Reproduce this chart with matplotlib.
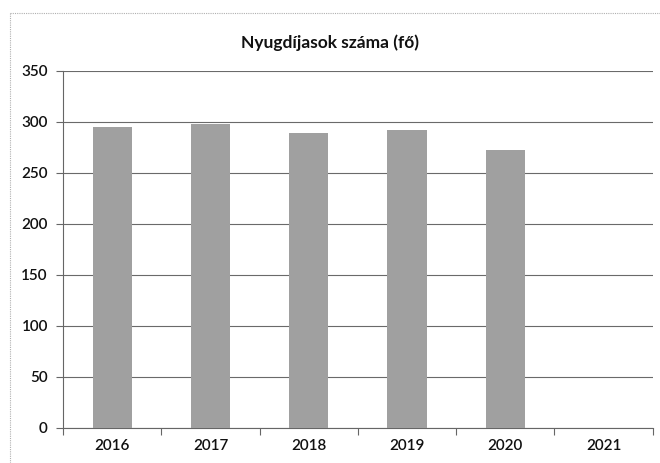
import matplotlib
matplotlib.use("Agg")
import matplotlib.pyplot as plt
from matplotlib.lines import Line2D

years = ["2016", "2017", "2018", "2019", "2020", "2021"]
retirees = [295, 298, 289, 292, 273, 0]
y_ticks = [0, 50, 100, 150, 200, 250, 300, 350]
title = "Nyugdíjasok száma (fő)"

plt.rcParams["font.family"] = ["Lato", "DejaVu Sans"]

fig = plt.figure(figsize=(6.6, 4.63), dpi=100)
fig.patch.set_facecolor("white")
ax = fig.add_axes([0.0955, 0.0756, 0.989 - 0.0955, 0.8467 - 0.0756])

x = list(range(len(years)))
ax.bar(x, retirees, width=0.4, color="#a0a0a0", edgecolor="none", zorder=3)

ax.set_xlim(-0.5, len(years) - 0.5)
ax.set_ylim(0, 350)
ax.set_yticks(y_ticks)
ax.set_yticklabels([str(v) for v in y_ticks], fontsize=11, color="#111111",
                   fontweight="semibold")
ax.set_xticks(x)
ax.set_xticklabels(years, fontsize=11, color="#111111", fontweight="semibold")
ax.set_xticks([i - 0.5 for i in range(len(years) + 1)], minor=True)

ax.tick_params(axis="x", which="major", length=0, pad=8)
ax.tick_params(axis="x", which="minor", length=5, width=0.8, color="#666666", direction="out")
ax.tick_params(axis="y", which="major", length=5, width=0.8, color="#666666", direction="out", pad=6)

ax.grid(axis="y", color="#6a6a6a", linewidth=0.8, zorder=0)
for side in ("top", "right"):
    ax.spines[side].set_visible(False)
for side in ("left", "bottom"):
    ax.spines[side].set_color("#666666")
    ax.spines[side].set_linewidth(0.8)

fig.text(0.5, 1 - 43 / 463, title, ha="center", va="center",
         fontsize=12.5, fontweight="bold", color="#111111")

# outer chart frame (dotted)
frame_kw = dict(color="#b0b0b0", linewidth=0.8, linestyle=(0, (1, 1)))
fig.add_artist(Line2D([10 / 660, 1.0], [1 - 13 / 463, 1 - 13 / 463], **frame_kw))
fig.add_artist(Line2D([10 / 660, 10 / 660], [0.0, 1 - 13 / 463], **frame_kw))

fig.savefig("out.png", dpi=100, facecolor="white")
